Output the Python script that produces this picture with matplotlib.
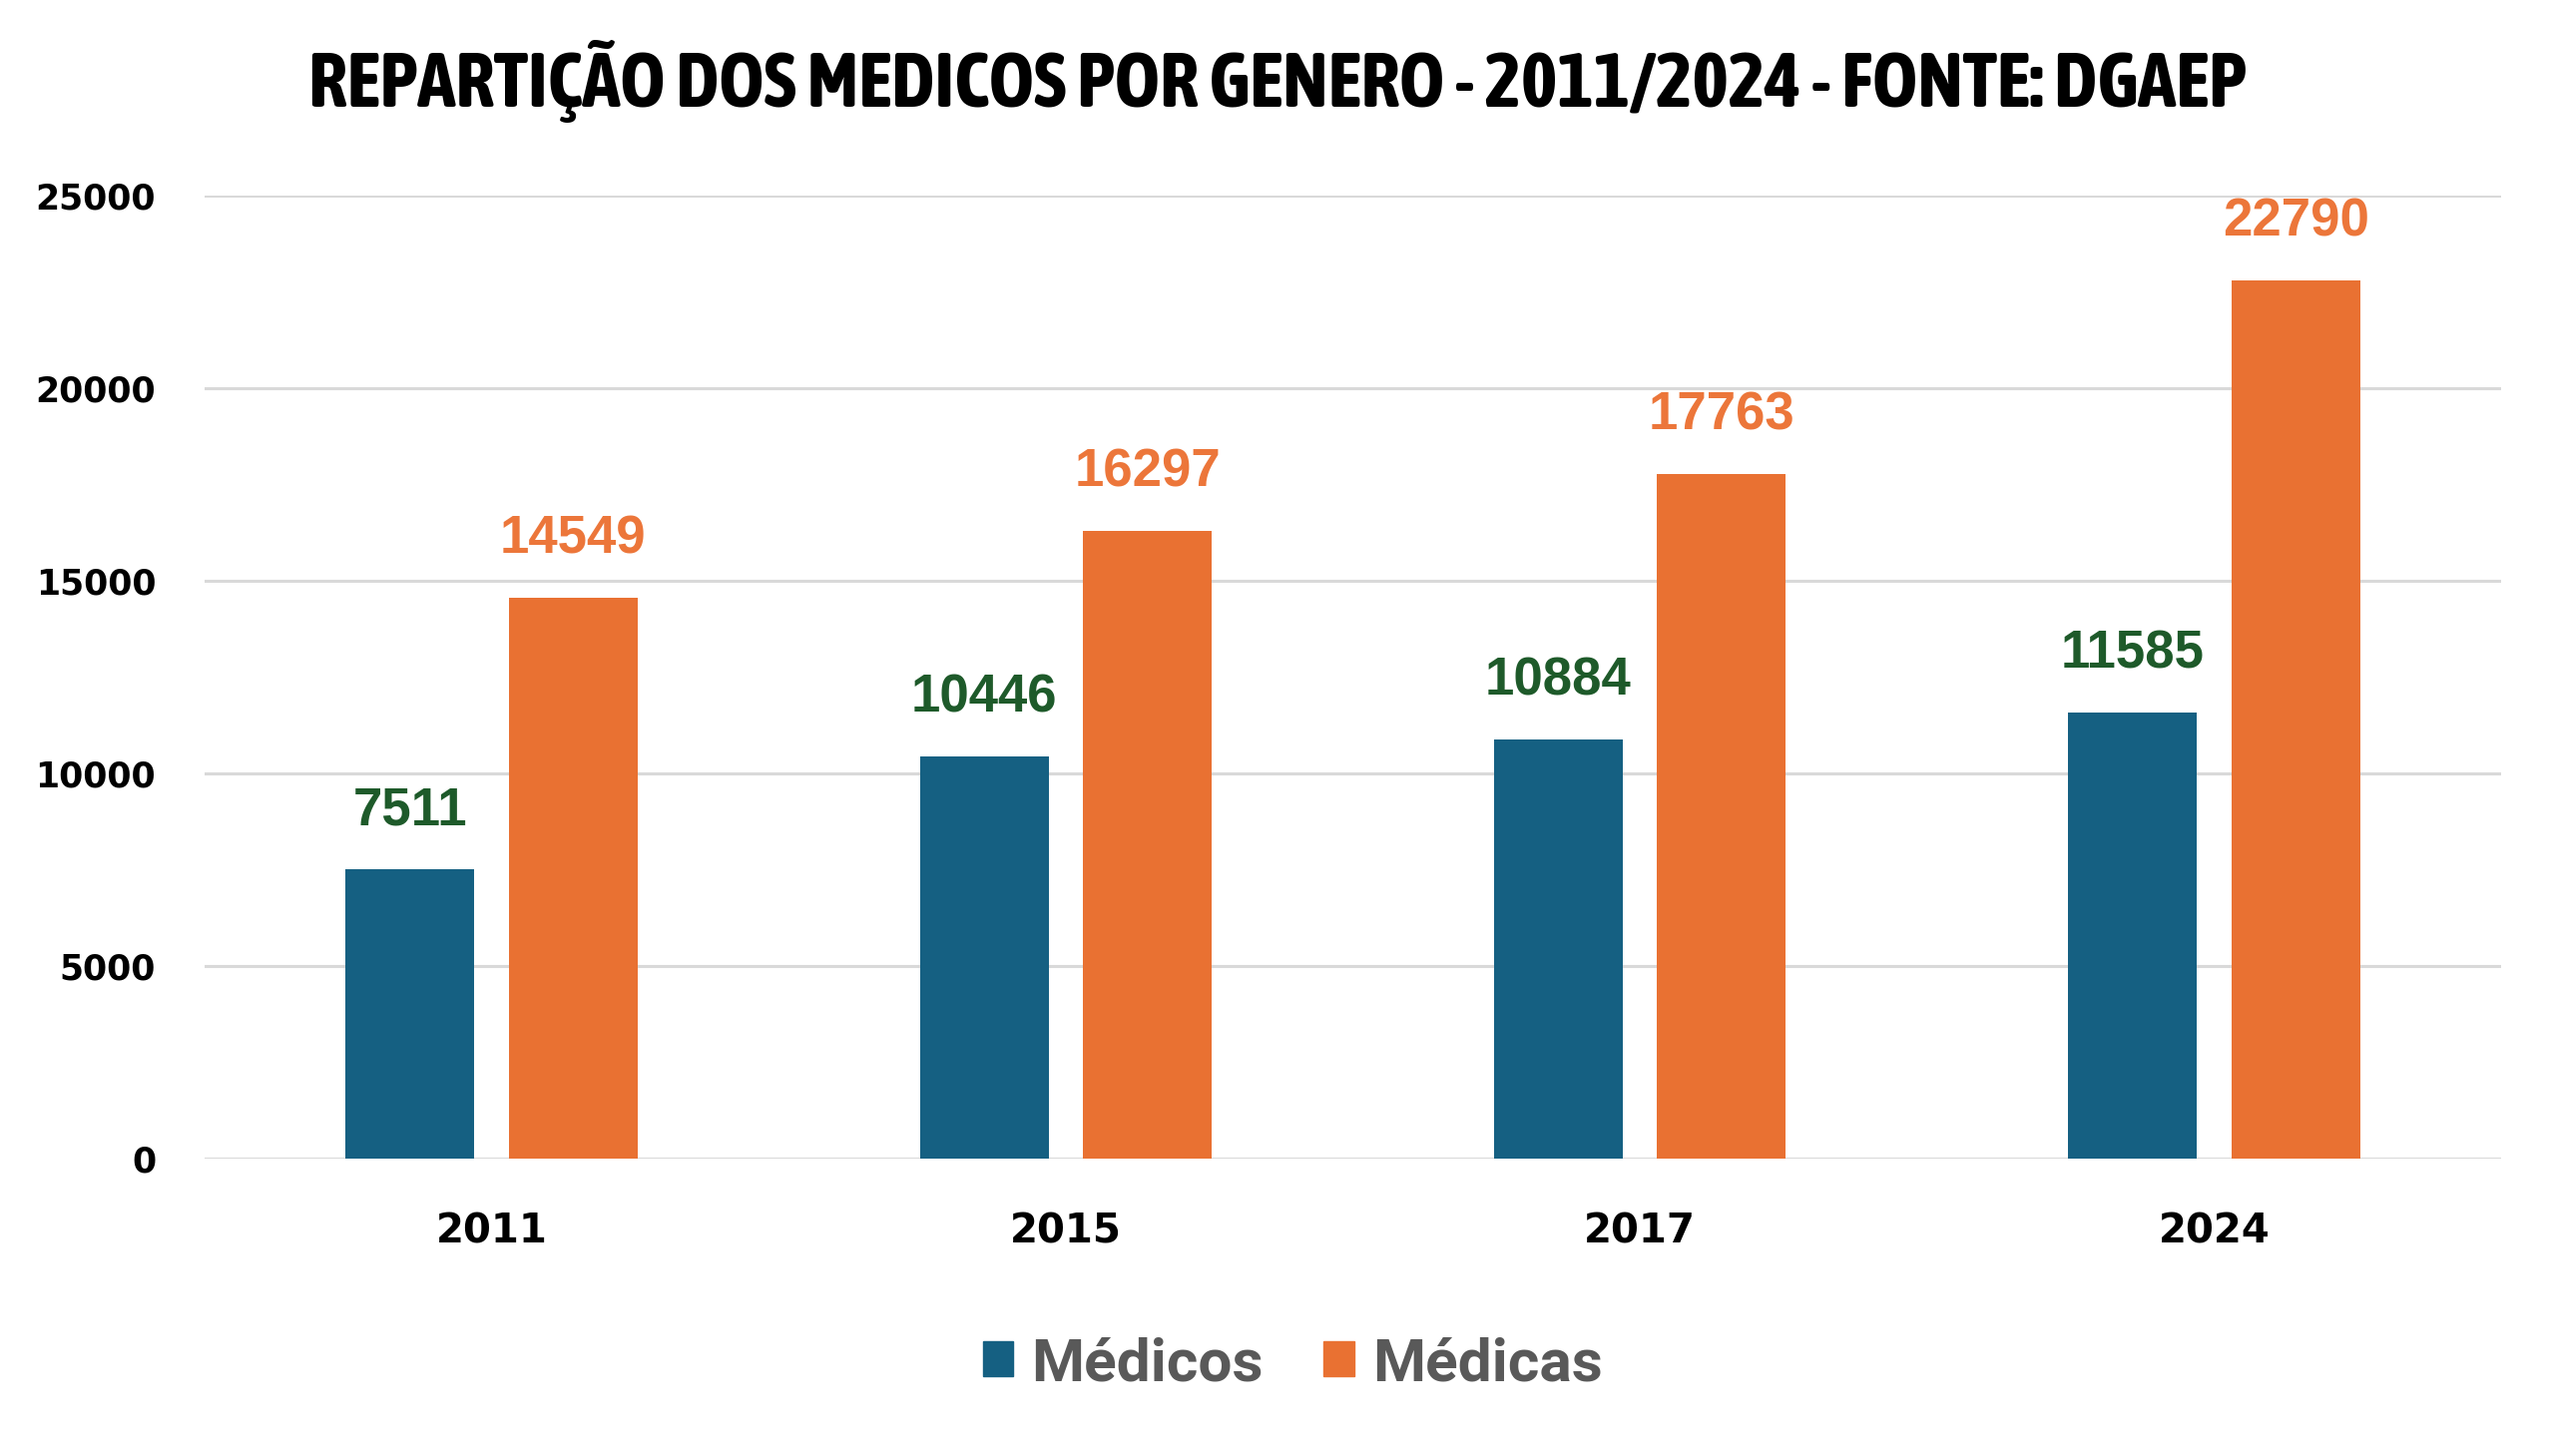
import matplotlib
matplotlib.use('Agg')
import matplotlib.pyplot as plt
from matplotlib import font_manager
from matplotlib.patches import Patch
import numpy as np

# ---- data ----
title = "REPARTIÇÃO DOS MEDICOS POR GENERO - 2011/2024 - FONTE: DGAEP"
years = ["2011", "2015", "2017", "2024"]
medicos = [7511, 10446, 10884, 11585]
medicas = [14549, 16297, 17763, 22790]
series_names = ["Médicos", "Médicas"]
yticks = [0, 5000, 10000, 15000, 20000, 25000]

# ---- fonts: find a condensed family with a bold face ----
def wnum(w):
    if isinstance(w, (int, float)):
        return int(w)
    return {'ultralight': 100, 'light': 300, 'normal': 400, 'regular': 400,
            'book': 400, 'medium': 500, 'roman': 400, 'semibold': 600,
            'demibold': 600, 'demi': 600, 'bold': 700, 'heavy': 800,
            'extra bold': 800, 'black': 900}.get(str(w).lower(), 400)

cands = {}
for f in font_manager.fontManager.ttflist:
    nm = f.name
    st = f.stretch
    is_narrow = ('Narrow' in nm or 'Condensed' in nm or
                 (isinstance(st, str) and 'condensed' in st) or
                 (isinstance(st, int) and st < 500))
    if is_narrow:
        key = (nm, st)
        cands.setdefault(key, set()).add(wnum(f.weight))

narrow_family, narrow_stretch = 'Liberation Sans', None
best = None
for (nm, st), ws in cands.items():
    score = max(ws)
    if best is None or score > best[0]:
        best = (score, nm, st, ws)
if best is not None:
    narrow_family, narrow_stretch = best[1], best[2]

BLUE = '#156082'
ORANGE = '#E97132'
LABEL_ORANGE = '#EC763A'
GREEN = '#1E5A2A'
GRID = '#D9D9D9'

fig = plt.figure(figsize=(25.6, 14.59), dpi=100)
ax = fig.add_axes([0.080, 0.204, 0.899, 0.662])

x = np.arange(len(years))
w = 0.224
off = 0.142
b1 = ax.bar(x - off, medicos, w, color=BLUE, zorder=3, label=series_names[0])
b2 = ax.bar(x + off, medicas, w, color=ORANGE, zorder=3, label=series_names[1])

for rect, v in zip(b1, medicos):
    ax.annotate(str(v), (rect.get_x() + rect.get_width() / 2, v), xytext=(0, 24),
                textcoords='offset points', ha='center', va='bottom',
                fontsize=38, fontweight='bold', color=GREEN,
                family='Liberation Sans', clip_on=False)
for rect, v in zip(b2, medicas):
    ax.annotate(str(v), (rect.get_x() + rect.get_width() / 2, v), xytext=(0, 24),
                textcoords='offset points', ha='center', va='bottom',
                fontsize=38, fontweight='bold', color=LABEL_ORANGE,
                family='Liberation Sans', clip_on=False)

ax.set_xlim(-0.5, len(years) - 0.5)
ax.set_ylim(0, 25000)
ax.set_yticks(yticks)
ax.set_yticklabels([str(t) for t in yticks])
ax.set_xticks(x)
ax.set_xticklabels(years)
ax.yaxis.grid(True, color=GRID, linewidth=2.2, zorder=0)
ax.set_axisbelow(True)
for s in ax.spines.values():
    s.set_visible(False)
ax.tick_params(axis='both', length=0)
ax.tick_params(axis='y', pad=35, labelsize=25)
ax.tick_params(axis='x', pad=38, labelsize=29)
for lab in ax.get_yticklabels() + ax.get_xticklabels():
    lab.set_fontweight('bold')
    lab.set_family('DejaVu Sans')
    lab.set_color('black')

extra = {'stretch': narrow_stretch} if narrow_stretch is not None else {}
t = fig.text(0.500, 0.944, title, ha='center', va='center', fontsize=51,
             color='black', family=narrow_family, weight='bold', **extra)
fig.canvas.draw()
bb = t.get_window_extent()
target = 1941
t.set_fontsize(51 * min(1.12, target / bb.width))

handles = [Patch(color=BLUE), Patch(color=ORANGE)]
lprops = font_manager.FontProperties(family=['Roboto', 'Liberation Sans'], size=43.5,
                                     weight='bold')
leg = fig.legend(handles, series_names, loc='center', bbox_to_anchor=(0.506, 0.063),
                 ncol=2, frameon=False, prop=lprops, handlelength=0.5, handleheight=0.5,
                 handletextpad=0.3, columnspacing=1.0)
for txt in leg.get_texts():
    txt.set_color('#595959')

fig.savefig('out.png', dpi=100)
